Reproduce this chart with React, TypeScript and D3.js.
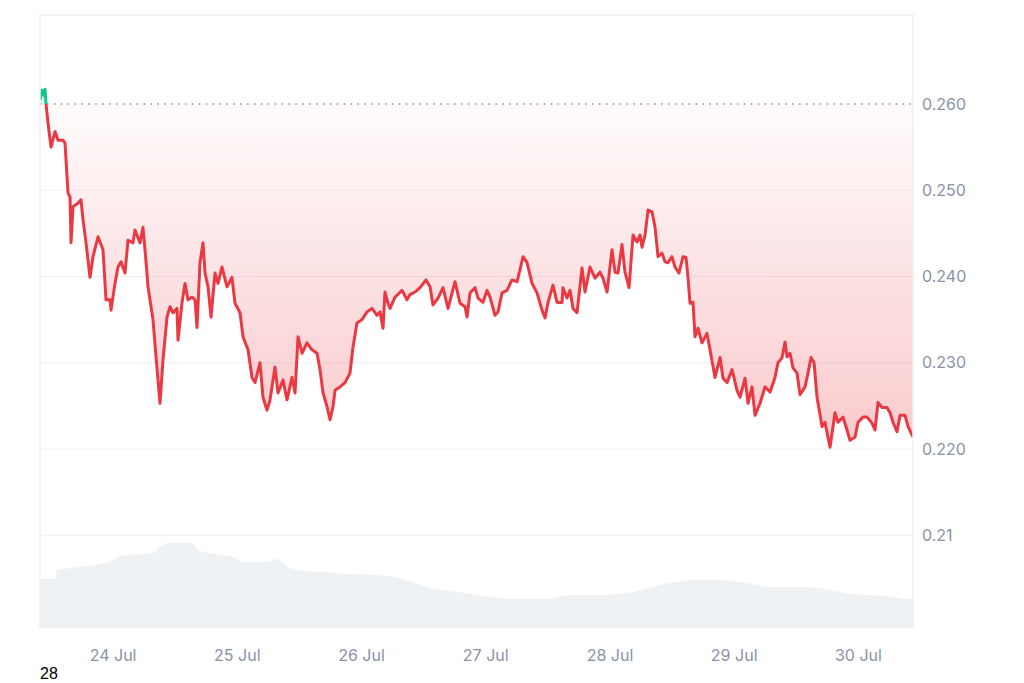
import React from "react";
import * as d3 from "d3";

// ---- data ----
const startTime = Date.UTC(2024, 6, 23, 9, 53);
const priceHours = [0,0.39,0.77,0.97,1.16,1.55,2.13,2.9,3.48,4.44,4.83,5.41,5.8,5.99,6.38,7.34,7.92,8.31,8.89,9.66,10.24,11.21,12.17,12.75,13.52,13.72,14.49,15.07,15.65,16.42,17,17.97,18.35,19.32,19.9,20.29,20.87,21.83,22.41,23.18,23.76,24.54,25.12,25.7,26.47,26.66,27.43,28.01,28.59,29.37,29.95,30.33,30.91,31.49,31.88,32.46,33.04,33.81,34.39,35.16,36.13,37.09,37.67,38.64,39.22,40.19,40.96,41.54,42.5,43.08,43.86,44.44,45.4,45.98,46.95,47.72,48.69,49.27,49.85,50.62,51.58,52.55,53.52,54.1,54.68,55.45,56.03,56.61,57,57.96,58.93,59.89,60.47,61.24,62.21,63.18,64.14,65.11,65.69,66.27,66.65,67.23,67.62,68.59,69.94,70.9,71.48,72.45,73.42,74.58,75.35,75.93,76.9,77.86,78.83,80.18,81.15,82.11,82.5,83.08,84.05,84.63,85.59,86.36,86.94,87.91,88.49,89.26,90.22,91.19,92.16,92.74,93.32,94.09,95.06,96.02,96.99,97.57,98.15,99.11,99.88,100.85,101.04,101.82,102.4,102.98,103.75,104.72,105.29,106.26,107.23,108.19,108.77,109.55,110.51,111.09,111.67,112.44,113.02,113.8,114.57,115.34,115.92,116.31,116.89,117.47,118.24,118.82,119.4,120.17,120.75,121.33,122.1,122.68,123.45,124.23,124.81,125.19,125.58,126.16,126.55,127.13,127.9,128.86,129.44,130.41,131.38,131.96,132.73,133.7,134.66,135.24,136.21,136.79,137.56,138.14,139.11,140.07,141.04,142,142.58,143.36,143.94,144.32,144.9,145.48,146.25,146.83,147.8,148.38,148.96,149.54,150.12,151.08,151.66,152.05,152.63,153.21,153.59,154.17,155.14,155.91,156.49,157.46,158.04,159,159.78,160.74,161.32,161.9,162.67,163.64,164.22,164.8,165.57,166.15,167.12,167.7,168.66];
const prices = [0.2605,0.2616,0.261,0.2617,0.26,0.2578,0.255,0.2568,0.2558,0.2558,0.2555,0.2497,0.2492,0.2439,0.2481,0.2485,0.2489,0.2466,0.2439,0.2399,0.2423,0.2446,0.2431,0.2373,0.2373,0.2361,0.2392,0.2411,0.2417,0.2404,0.2442,0.2439,0.2454,0.2439,0.2457,0.2431,0.2388,0.235,0.2307,0.2253,0.2303,0.2353,0.2365,0.2358,0.2363,0.2326,0.2369,0.2392,0.2373,0.2376,0.2373,0.2341,0.2416,0.2439,0.2404,0.2388,0.2353,0.2404,0.2392,0.2411,0.2388,0.2399,0.2369,0.2358,0.233,0.2315,0.2283,0.2277,0.23,0.226,0.2245,0.2257,0.2295,0.2265,0.228,0.2257,0.2283,0.2265,0.233,0.2311,0.2323,0.2315,0.2311,0.2292,0.2265,0.2249,0.2234,0.2249,0.2268,0.2272,0.2277,0.2288,0.2318,0.2346,0.235,0.2359,0.2363,0.2355,0.2359,0.234,0.2382,0.2369,0.2363,0.2376,0.2384,0.2373,0.2379,0.2382,0.2387,0.2396,0.2388,0.2367,0.2375,0.2387,0.2363,0.2394,0.2369,0.2365,0.2353,0.2381,0.2387,0.2375,0.237,0.2384,0.2376,0.2355,0.2359,0.2381,0.2384,0.2396,0.2394,0.2408,0.2423,0.2416,0.2392,0.2381,0.2361,0.2352,0.237,0.239,0.237,0.237,0.2387,0.2375,0.2384,0.2363,0.2358,0.241,0.2382,0.2411,0.2398,0.2405,0.2398,0.2382,0.2431,0.2405,0.2404,0.2437,0.2405,0.2387,0.2448,0.244,0.2448,0.2434,0.2448,0.2477,0.2475,0.2457,0.2423,0.2427,0.2417,0.2416,0.2423,0.2411,0.2404,0.2423,0.2422,0.2399,0.2369,0.237,0.233,0.234,0.2323,0.2334,0.2315,0.2283,0.2306,0.2282,0.2277,0.2292,0.2268,0.226,0.2282,0.2253,0.2272,0.2239,0.2253,0.2272,0.2266,0.2283,0.23,0.2306,0.2324,0.2307,0.2311,0.2294,0.2288,0.2263,0.2272,0.2288,0.2306,0.23,0.226,0.2226,0.2231,0.2219,0.2202,0.2226,0.2242,0.2231,0.2237,0.2222,0.221,0.2214,0.2231,0.2237,0.2237,0.223,0.2222,0.2254,0.2248,0.2248,0.2242,0.2231,0.222,0.2239,0.2239,0.2226,0.2214];
const volumeHours = [0,2.9,3.3,10.4,14.1,15.3,21.8,23.4,25.1,29.4,30.5,32.7,37.7,39.2,43.7,45.8,47.9,50,54.5,59.9,67.6,71.9,76.3,80.6,87.1,91.6,98.1,102.4,109,114.4,119.8,126.4,130.8,135.2,141.6,148.2,152.6,156.9,163.5,167.9,168.66];
const volumes = [49,49,58,63,68,72,75,82,85,85,78,75,70,66,66,69,61,58,56,54,52,46,39,36,31,29,29,33,33,36,43,48,48,46,41,41,38,34,32,29,29];
const baseline = 0.26;
const yTicks = [0.26, 0.25, 0.24, 0.23, 0.22, 0.21];
const yTickLabels = ["0.260", "0.250", "0.240", "0.230", "0.220", "0.21"];
const cornerLabel = "28";

const W = 1024, H = 683;
const L = 40, R = 913, T = 15, B = 628;
const RED = "#ea3943", GREEN = "#16c784";

export default function App() {
  const times = priceHours.map((h) => new Date(startTime + h * 3600000));
  const x = d3.scaleUtc().domain([times[0], times[times.length - 1]]).range([L, R]);
  const y = d3.scaleLinear().domain([0.22, 0.26]).range([449, 104]);
  const vy = d3.scaleLinear().domain([0, 100]).range([B, B - 100]);
  const pts = prices.map((p, i) => ({ t: times[i], p }));
  const line = d3.line<any>().x((d) => x(d.t)).y((d) => y(d.p));
  const area = d3.area<any>().x((d) => x(d.t)).y0(y(baseline)).y1((d) => y(d.p));
  const vpts = volumes.map((v, i) => ({ t: new Date(startTime + volumeHours[i] * 3600000), v }));
  const varea = d3.area<any>().curve(d3.curveMonotoneX).x((d) => x(d.t)).y0(B).y1((d) => vy(d.v));
  const days = d3.utcDay.range(d3.utcDay.ceil(x.domain()[0]), x.domain()[1]);
  const fmt = d3.utcFormat("%-d %b");
  const by = y(baseline);
  const font = "Inter, 'Noto Sans', sans-serif";
  return (
    <svg width={W} height={H} style={{ position: "absolute", left: 0, top: 0 }}>
      <defs>
        <linearGradient id="redFill" gradientUnits="userSpaceOnUse" x1="0" y1={by} x2="0" y2={y(0.22)}>
          <stop offset="0" stopColor={RED} stopOpacity={0.02} />
          <stop offset="1" stopColor={RED} stopOpacity={0.27} />
        </linearGradient>
        <clipPath id="above"><rect x={L} y={T} width={R - L} height={by - T} /></clipPath>
        <clipPath id="below"><rect x={L} y={by} width={R - L} height={B - by} /></clipPath>
      </defs>
      <rect x={0} y={0} width={W} height={H} fill="#fff" />
      {yTicks.slice(1).map((t) => (
        <line key={t} x1={L} x2={R} y1={y(t)} y2={y(t)} stroke="#eeeff1" strokeWidth={1} />
      ))}
      <path d={varea(vpts) || ""} fill="#eff2f5" />
      <path d={area(pts) || ""} fill="url(#redFill)" clipPath="url(#below)" />
      <path d={area(pts) || ""} fill={GREEN} fillOpacity={0.15} clipPath="url(#above)" />
      <line x1={L} x2={R} y1={by} y2={by} stroke="#8d939c" strokeWidth={1.6} strokeDasharray="1.6 5.3" />
      <path d={line(pts) || ""} fill="none" stroke={RED} strokeWidth={3} strokeLinejoin="round" clipPath="url(#below)" />
      <path d={line(pts) || ""} fill="none" stroke={GREEN} strokeWidth={3} strokeLinejoin="round" clipPath="url(#above)" />
      <path d={`M${L},${B}V${T}H${R}V${B}`} fill="none" stroke="#eeeff1" strokeWidth={1.5} />
      {yTicks.map((t, i) => (
        <text key={t} x={922} y={y(t)} dy="0.35em" fill="#8a93a6" fontSize={16} fontFamily={font}>{yTickLabels[i]}</text>
      ))}
      {days.map((d) => (
        <text key={+d} x={x(d)} y={655} dy="0.35em" textAnchor="middle" fill="#8a93a6" fontSize={16} fontFamily={font}>{fmt(d)}</text>
      ))}
      <text x={40} y={679} fill="#000" fontSize={16} fontFamily="'Liberation Sans', Arial, sans-serif">{cornerLabel}</text>
    </svg>
  );
}
